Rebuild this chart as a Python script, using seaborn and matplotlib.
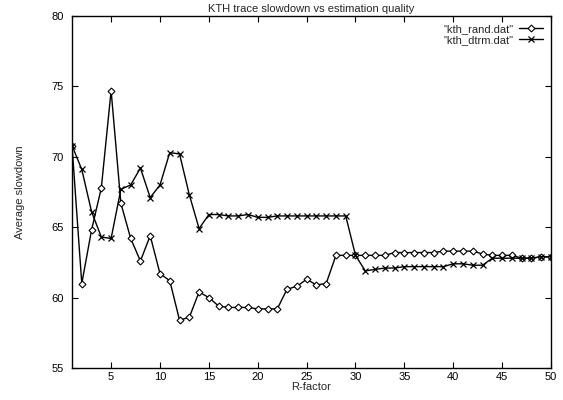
import numpy as np
import pandas as pd
import matplotlib
matplotlib.use("Agg")
import matplotlib.pyplot as plt
import seaborn as sns

r_factor = list(range(1, 51))
kth_rand = [70.8, 61.0, 64.8, 67.8, 74.7, 66.7, 64.2, 62.6, 64.4, 61.7,
            61.2, 58.4, 58.6, 60.4, 60.0, 59.4, 59.3, 59.3, 59.3, 59.2,
            59.2, 59.2, 60.6, 60.8, 61.3, 60.9, 61.0, 63.0, 63.0, 63.0,
            63.0, 63.0, 63.0, 63.2, 63.2, 63.2, 63.2, 63.2, 63.3, 63.3,
            63.3, 63.3, 63.1, 63.0, 63.0, 63.0, 62.8, 62.8, 62.9, 62.9]
kth_dtrm = [70.8, 69.1, 66.1, 64.3, 64.2, 67.7, 68.0, 69.2, 67.1, 68.0,
            70.3, 70.2, 67.3, 64.9, 65.9, 65.9, 65.8, 65.8, 65.9, 65.7,
            65.7, 65.8, 65.8, 65.8, 65.8, 65.8, 65.8, 65.8, 65.8, 63.0,
            61.9, 62.0, 62.1, 62.1, 62.2, 62.2, 62.2, 62.2, 62.2, 62.4,
            62.4, 62.3, 62.3, 62.8, 62.8, 62.8, 62.8, 62.8, 62.9, 62.9]
series_names = ['"kth_rand.dat"', '"kth_dtrm.dat"']
x_ticks = [5, 10, 15, 20, 25, 30, 35, 40, 45, 50]
y_ticks = [55, 60, 65, 70, 75, 80]

df_rand = pd.DataFrame({"R": r_factor, "val": kth_rand})
df_dtrm = pd.DataFrame({"R": r_factor, "val": kth_dtrm})

sns.set_theme(style="ticks")
plt.rcParams['font.family'] = ['Liberation Sans', 'DejaVu Sans']

fig = plt.figure(figsize=(5.63, 4.0), dpi=100)
ax = fig.add_axes([0.1279, 0.08, 0.8508, 0.88])

sns.lineplot(data=df_rand, x="R", y="val", color="black", linewidth=1,
             marker="D", markersize=3.5, markerfacecolor="white",
             markeredgecolor="black", markeredgewidth=0.8,
             label=series_names[0], ax=ax)
sns.lineplot(data=df_dtrm, x="R", y="val", color="black", linewidth=1,
             marker="x", markersize=4.5, markeredgecolor="black",
             markeredgewidth=0.9, label=series_names[1], ax=ax)

ax.set_xlim(1, 50)
ax.set_ylim(55, 80)
ax.set_xticks(x_ticks)
ax.set_yticks(y_ticks)
ax.tick_params(direction="in", top=True, right=True, labelsize=8, length=4,
               width=0.8, colors="black")
ax.tick_params(axis="x", pad=3)
ax.tick_params(axis="y", pad=6)
for s in ax.spines.values():
    s.set_linewidth(1.0)
    s.set_color("black")
ax.set_xlabel("R-factor", fontsize=8, labelpad=0)
ax.set_ylabel("Average slowdown", fontsize=8, labelpad=19)
ax.set_title("KTH trace slowdown vs estimation quality", fontsize=8, pad=3)

leg = ax.legend(loc="upper right", frameon=False, fontsize=8, markerfirst=False,
                handlelength=2.2, borderaxespad=0.3, labelspacing=0.1,
                handletextpad=0.5)
for t in leg.get_texts():
    t.set_ha("right")

fig.savefig("out.png", dpi=100)
